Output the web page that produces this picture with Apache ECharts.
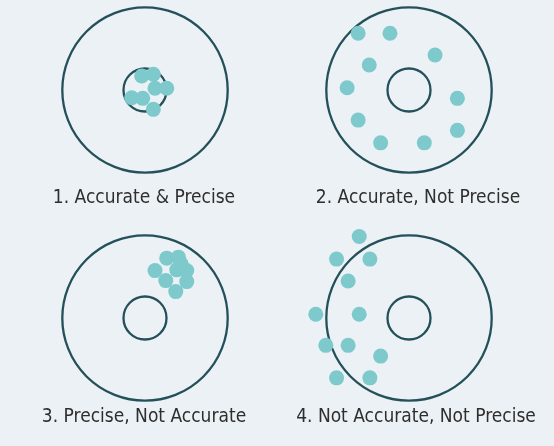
<!DOCTYPE html>
<html>
<head>
<meta charset="utf-8">
<script src="https://cdn.jsdelivr.net/npm/echarts@6/dist/echarts.min.js"></script>
<style>
html,body{margin:0;padding:0;background:#ebf1f5;}
#chart{width:554px;height:446px;}
</style>
</head>
<body>
<div id="chart"></div>
<script>
// Target rings (radius in target units; outer ring = 10)
const ringRadii = [10, 2.6];
// Panel captions
const panelTitles = [
  '1. Accurate & Precise',
  '2. Accurate, Not Precise',
  '3. Precise, Not Accurate',
  '4. Not Accurate, Not Precise'
];
// Shots, [x, y] relative to target centre (units, y up)
const shots1 = [[-0.40,1.70],[1.01,1.90],[1.21,0.21],[2.63,0.21],[-1.61,-0.93],[-0.28,-1.01],[1.01,-2.34]];
const shots2 = [[-6.15,6.87],[-2.30,6.87],[3.15,4.24],[-4.81,3.03],[-7.48,0.28],[5.85,-1.01],[-6.15,-3.64],[5.85,-4.88],[-3.43,-6.39],[1.85,-6.39]];
const shots3 = [[2.63,7.24],[4.04,7.36],[1.21,5.73],[3.84,5.82],[5.05,5.73],[2.51,4.52],[5.05,4.40],[3.72,3.19],[4.36,6.55]];
const shots4 = [[-6.02,9.85],[-8.76,7.12],[-4.73,7.12],[-7.36,4.48],[-11.27,0.45],[-6.02,0.45],[-10.06,-3.31],[-7.36,-3.31],[-3.43,-4.61],[-8.76,-7.24],[-4.73,-7.24]];
const allShots = [shots1, shots2, shots3, shots4];

const centers = [[145,90],[409,90],[145,318],[409,318]];
const pxPerUnit = 8.27;
const halfUnits = 10.88;
const half = halfUnits * pxPerUnit;
const labelPos = [[144,198],[418,198],[144,417],[416,417]];

const ringColor = '#24505a';
const dotColor = '#7dc9cc';

const grids = [], xAxes = [], yAxes = [], series = [], graphics = [];
centers.forEach((c, i) => {
  grids.push({left: c[0]-half, top: c[1]-half, width: half*2, height: half*2, containLabel: false});
  xAxes.push({type:'value', gridIndex:i, min:-halfUnits, max:halfUnits, show:false});
  yAxes.push({type:'value', gridIndex:i, min:-halfUnits, max:halfUnits, show:false});
  series.push({
    type:'custom', xAxisIndex:i, yAxisIndex:i, clip:false, silent:true,
    data: ringRadii.map(r => [0,0,r]),
    renderItem: function(params, api){
      const p = api.coord([api.value(0), api.value(1)]);
      const r = api.size([api.value(2), 0])[0];
      return {type:'circle', shape:{cx:p[0], cy:p[1], r:r},
        style:{fill:'none', stroke:ringColor, lineWidth:2.3}};
    }
  });
  series.push({
    type:'scatter', xAxisIndex:i, yAxisIndex:i, clip:false, silent:true,
    symbol:'circle', symbolSize:15,
    itemStyle:{color:dotColor, opacity:1},
    data: allShots[i]
  });
  graphics.push({
    type:'text', x: labelPos[i][0], y: labelPos[i][1], silent:true,
    style:{text: panelTitles[i], fill:'#2e2e2e', font:'19px "DejaVu Sans Condensed", "DejaVu Sans"',
      align:'center', textAlign:'center', verticalAlign:'middle', textVerticalAlign:'middle'}
  });
});

const chart = echarts.init(document.getElementById('chart'), null, {renderer:'canvas'});
chart.setOption({
  backgroundColor:'#ebf1f5',
  animation:false,
  grid: grids, xAxis: xAxes, yAxis: yAxes, series: series,
  graphic: graphics
});
</script>
</body>
</html>
